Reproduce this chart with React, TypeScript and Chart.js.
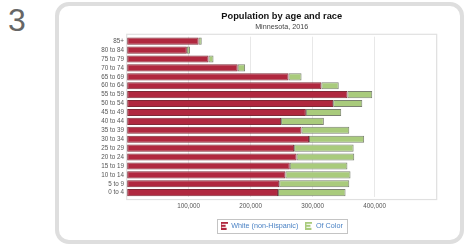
import React, { useEffect, useRef } from "react";
import { Chart, registerables } from "chart.js";

Chart.register(...registerables);

const ageGroups = [
  "85+", "80 to 84", "75 to 79", "70 to 74", "65 to 69", "60 to 64",
  "55 to 59", "50 to 54", "45 to 49", "40 to 44", "35 to 39", "30 to 34",
  "25 to 29", "20 to 24", "15 to 19", "10 to 14", "5 to 9", "0 to 4",
];
const whiteNonHispanic = [
  116000, 97000, 132000, 179000, 261000, 314000, 356000, 333000, 289000,
  249000, 282000, 294000, 270000, 274000, 263000, 256000, 246000, 244000,
];
const ofColor = [
  5000, 5000, 8000, 12000, 21000, 28000, 40000, 47000, 57000, 69000, 77000,
  89000, 96000, 93000, 93000, 105000, 113000, 109000,
];
const seriesNames = ["White (non-Hispanic)", "Of Color"];
const titleText = "Population by age and race";
const subtitleText = "Minnesota, 2016";
const xTickValues = [100000, 200000, 300000, 400000];

const RED = "#b0283f";
const RED_BORDER = "#7e2a36";
const GREEN = "#a9cb7c";
const GREEN_BORDER = "#7a8070";
const FONT = "'Liberation Sans', Arial, sans-serif";

function makeIcon(color: string): HTMLCanvasElement {
  const c = document.createElement("canvas");
  c.width = 7;
  c.height = 8;
  const g = c.getContext("2d")!;
  g.fillStyle = color;
  g.fillRect(0, 0, 1, 8);
  g.fillRect(1, 0, 6, 2);
  g.fillRect(1, 3, 4, 2);
  g.fillRect(1, 6, 5, 2);
  return c;
}

const framePlugin = {
  id: "frameAndLegendBox",
  beforeDatasetsDraw(chart: any) {
    const { ctx, chartArea } = chart;
    ctx.save();
    ctx.strokeStyle = "#e0e0e0";
    ctx.lineWidth = 1.2;
    ctx.strokeRect(chartArea.left, chartArea.top - 2.4, chartArea.right - chartArea.left, chartArea.bottom - chartArea.top + 4.8);
    ctx.restore();
  },
  afterDraw(chart: any) {
    const legend = chart.legend;
    if (!legend || !legend.legendHitBoxes || !legend.legendHitBoxes.length) return;
    const hb = legend.legendHitBoxes;
    const first = hb[0];
    const last = hb[hb.length - 1];
    const cy = first.top + first.height / 2;
    const ctx = chart.ctx;
    ctx.save();
    ctx.strokeStyle = "#c4c4c4";
    ctx.lineWidth = 1;
    const l = Math.round(first.left - 3.5) + 0.5;
    const r = Math.round(last.left + last.width + 4) + 0.5;
    const t = Math.round(cy - 6.8) + 0.5;
    const b = Math.round(cy + 6.8) + 0.5;
    ctx.strokeRect(l, t, r - l, b - t);
    ctx.restore();
  },
};

export default function App() {
  const canvasRef = useRef<HTMLCanvasElement | null>(null);

  useEffect(() => {
    if (!canvasRef.current) return;
    const redIcon = makeIcon(RED);
    const greenIcon = makeIcon(GREEN);
    const chart = new Chart(canvasRef.current, {
      type: "bar",
      data: {
        labels: ageGroups,
        datasets: [
          {
            label: seriesNames[0],
            data: whiteNonHispanic,
            backgroundColor: RED,
            borderColor: RED_BORDER,
            borderWidth: 1,
            borderSkipped: false,
            barPercentage: 0.8,
            categoryPercentage: 1,
            pointStyle: redIcon as any,
          },
          {
            label: seriesNames[1],
            data: ofColor,
            backgroundColor: GREEN,
            borderColor: GREEN_BORDER,
            borderWidth: 1,
            borderSkipped: false,
            barPercentage: 0.8,
            categoryPercentage: 1,
            pointStyle: greenIcon as any,
          },
        ],
      },
      options: {
        indexAxis: "y",
        responsive: false,
        animation: false,
        maintainAspectRatio: false,
        layout: { padding: { left: 60, right: 28.3, top: 11.1, bottom: 8.6 } },
        scales: {
          x: {
            stacked: true,
            min: 0,
            max: 500000,
            afterBuildTicks: (scale: any) => {
              scale.ticks = [0, ...xTickValues, 500000].map((v) => ({ value: v }));
            },
            ticks: {
              padding: 5.2,
              color: "#555",
              font: { family: FONT, size: 6.3 },
              maxRotation: 0,
              callback: (v: any) =>
                xTickValues.includes(Number(v)) ? Number(v).toLocaleString("en-US") : "",
            },
            grid: { color: "#e8e8e8", drawTicks: false, lineWidth: 1 },
            border: { display: false },
          },
          y: {
            stacked: true,
            afterFit: (scale: any) => {
              scale.width = 66.7;
            },
            ticks: {
              padding: 2.7,
              color: "#555",
              font: { family: FONT, size: 6.3 },
              autoSkip: false,
            },
            grid: { display: false, drawTicks: false },
            border: { display: false },
          },
        },
        plugins: {
          title: {
            display: true,
            text: titleText,
            fullSize: false,
            color: "#111",
            font: { family: FONT, size: 9.3, weight: "bold" },
            padding: { top: 0, bottom: 0 },
          },
          subtitle: {
            display: true,
            text: subtitleText,
            fullSize: false,
            color: "#444",
            font: { family: FONT, size: 7.2 },
            padding: { top: 0, bottom: 5.8 },
          },
          legend: {
            display: true,
            position: "bottom",
            fullSize: false,
            labels: {
              usePointStyle: true,
              boxWidth: 7,
              boxHeight: 7,
              padding: 7.1,
              color: "#4a82c4",
              font: { family: FONT, size: 7.2 },
            },
          },
          tooltip: { enabled: false },
        },
      },
      plugins: [framePlugin],
    } as any);
    return () => chart.destroy();
  }, []);

  return (
    <div style={{ position: "absolute", left: 0, top: 0, width: 465, height: 248, background: "#fff", overflow: "hidden" }}>
      <div
        style={{
          position: "absolute",
          left: 8,
          top: 2,
          fontFamily: FONT,
          fontSize: 32,
          color: "#666",
          lineHeight: "36px",
        }}
      >
        3
      </div>
      <div
        style={{
          position: "absolute",
          left: 55,
          top: 2,
          width: 409,
          height: 242,
          boxSizing: "border-box",
          border: "4px solid #dedede",
          borderRadius: 14,
          background: "#fff",
        }}
      />
      <canvas
        ref={canvasRef}
        width={465}
        height={248}
        style={{ position: "absolute", left: 0, top: 0, width: 465, height: 248 }}
      />
    </div>
  );
}
